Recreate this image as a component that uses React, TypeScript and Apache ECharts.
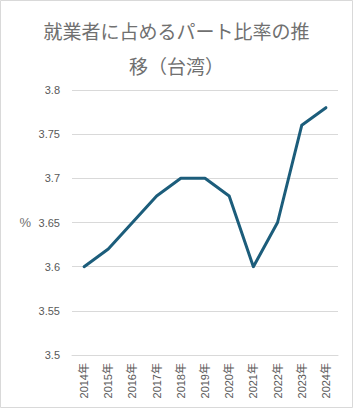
import React, { useEffect, useRef } from "react";
import * as echarts from "echarts";

const titleLines = ["就業者に占めるパート比率の推", "移（台湾）"];
const years = ["2014年", "2015年", "2016年", "2017年", "2018年", "2019年", "2020年", "2021年", "2022年", "2023年", "2024年"];
const shares = [3.6, 3.62, 3.65, 3.68, 3.7, 3.7, 3.68, 3.6, 3.65, 3.76, 3.78];
const yMin = 3.5;
const yMax = 3.8;
const yStep = 0.05;
const yUnit = "%";

export default function App() {
  const ref = useRef<HTMLDivElement>(null);
  useEffect(() => {
    if (!ref.current) return;
    const chart = echarts.init(ref.current, null, { renderer: "svg" });
    const font = "'Liberation Sans', 'Noto Sans CJK JP', sans-serif";
    chart.setOption({
      animation: false,
      backgroundColor: "#ffffff",
      title: {
        text: titleLines.join("\n"),
        left: "center",
        top: 8,
        textStyle: {
          fontFamily: "'Noto Sans CJK JP', sans-serif",
          fontSize: 19,
          fontWeight: "normal",
          color: "#707070",
          lineHeight: 35,
        },
      },
      graphic: [
        {
          type: "rect",
          shape: { x: 0.5, y: 0.5, width: 352, height: 407 },
          style: { fill: "none", stroke: "#d9d9d9", lineWidth: 1 },
          silent: true,
        },
      ],
      grid: { left: 72, right: 15, top: 90, bottom: 53, containLabel: false },
      xAxis: {
        type: "category",
        data: years,
        boundaryGap: true,
        axisLine: { show: true, lineStyle: { color: "#d9d9d9", width: 1 } },
        axisTick: { show: false },
        axisLabel: {
          rotate: 90,
          margin: 8,
          interval: 0,
          fontSize: 11,
          color: "#595959",
          fontFamily: font,
        },
        splitLine: { show: false },
      },
      yAxis: {
        type: "value",
        min: yMin,
        max: yMax,
        interval: yStep,
        name: yUnit,
        nameLocation: "middle",
        nameRotate: 0,
        nameGap: 41,
        nameTextStyle: { fontSize: 13, color: "#707070", fontFamily: font },
        axisLine: { show: false },
        axisTick: { show: false },
        axisLabel: {
          margin: 12,
          fontSize: 11,
          color: "#595959",
          fontFamily: font,
        },
        splitLine: { show: true, lineStyle: { color: "#d9d9d9", width: 1 } },
      },
      series: [
        {
          type: "line",
          data: shares,
          symbol: "none",
          lineStyle: { color: "#1c5d7b", width: 3, cap: "round", join: "round" },
          itemStyle: { color: "#1c5d7b" },
        },
      ],
    });
    return () => chart.dispose();
  }, []);
  return (
    <div
      ref={ref}
      style={{ position: "absolute", left: 0, top: 0, width: 353, height: 408 }}
    />
  );
}
